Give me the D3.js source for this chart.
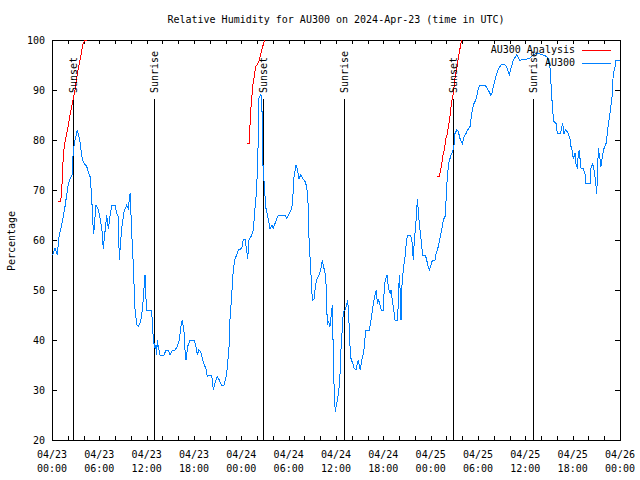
<!DOCTYPE html>
<html><head><meta charset="utf-8">
<script src="https://cdn.jsdelivr.net/npm/d3@7"></script>
<style>
body{margin:0;background:#fff}
svg text{font-family:"DejaVu Sans Mono","Liberation Mono",monospace;font-size:10px;fill:#000}
</style>
</head><body><svg id="chart" width="640" height="480"></svg>
<script>
const chartTitle = "Relative Humidity for AU300 on 2024-Apr-23 (time in UTC)";
const yAxisTitle = "Percentage";
const startTime = "2024-04-23T00:00:00Z";
const endTime = "2024-04-26T00:00:00Z";
const yTickValues = [20, 30, 40, 50, 60, 70, 80, 90, 100];
const seriesNames = ["AU300 Analysis", "AU300"];
const seriesColors = ["#ff0000", "#0080ff"];

// hours since 2024-04-23 00:00 UTC
const humidityHours = [0.09,0.38,0.67,0.89,1.23,1.65,2.07,2.28,2.54,2.70,2.92,3.21,3.55,3.76,3.97,4.40,4.60,4.82,5.03,5.16,5.29,5.41,5.58,5.87,6.17,6.34,6.50,6.72,6.93,7.14,7.35,7.57,7.99,8.20,8.40,8.53,8.71,8.87,9.13,9.47,9.67,9.89,9.98,10.14,10.31,10.43,10.52,10.74,10.94,11.24,11.50,11.66,11.79,11.92,12.00,12.55,12.71,12.80,12.93,13.06,13.18,13.27,13.35,13.47,13.69,14.20,14.45,14.74,14.96,15.25,15.59,15.88,16.14,16.35,16.52,16.73,16.86,16.99,17.20,17.49,18.00,18.25,18.42,18.60,18.85,19.05,19.31,19.52,19.69,19.94,20.24,20.45,20.66,20.95,21.21,21.46,21.80,22.06,22.22,22.44,22.56,22.78,22.98,23.20,23.41,23.62,24.05,24.25,24.46,24.68,24.81,24.97,25.23,25.52,25.73,25.95,26.11,26.24,26.49,26.62,26.66,26.78,26.91,27.13,27.34,27.63,27.89,28.05,28.27,28.69,29.54,29.75,30.08,30.38,30.51,30.68,30.93,31.09,31.31,31.53,31.78,32.07,32.29,32.49,32.58,32.70,32.83,32.92,33.05,33.21,33.43,33.63,33.85,34.06,34.26,34.39,34.61,34.73,34.82,34.90,35.08,35.24,35.37,35.53,35.58,35.66,35.78,35.91,36.09,36.22,36.38,36.51,36.63,36.80,36.93,37.14,37.36,37.48,37.56,37.69,37.78,37.90,38.12,38.32,38.54,38.70,38.83,38.95,39.08,39.26,39.46,39.59,39.77,40.22,40.40,40.53,40.65,40.82,40.98,41.11,41.24,41.41,41.58,41.74,42.00,42.12,42.25,42.47,42.59,42.72,42.85,42.97,43.19,43.35,43.48,43.82,43.90,44.03,44.11,44.24,44.33,44.53,44.75,44.87,45.04,45.47,45.63,45.80,45.93,46.10,46.23,46.31,46.43,46.56,46.74,46.90,46.99,47.32,47.50,47.62,47.83,48.00,48.17,48.33,48.55,48.68,48.84,48.97,49.18,49.40,49.60,49.82,49.94,50.11,50.29,50.45,50.62,50.79,50.96,51.08,51.30,51.50,51.72,52.01,52.23,52.48,52.69,52.99,53.20,53.41,53.62,53.84,54.04,54.25,54.89,55.10,55.39,55.61,55.74,55.94,56.28,56.57,56.79,57.00,57.30,57.55,57.72,57.97,58.18,58.48,58.69,58.91,59.11,59.32,59.54,60.17,60.50,60.81,61.01,61.23,61.65,62.28,62.71,62.91,63.13,63.34,63.47,63.63,63.89,64.05,64.48,64.61,64.74,64.90,65.07,65.32,65.50,65.66,65.79,65.92,66.08,66.30,66.42,66.59,66.72,66.84,66.93,67.06,67.35,67.56,67.69,68.20,68.32,68.54,68.70,68.87,69.05,69.17,69.25,69.46,69.59,69.76,69.97,70.23,70.39,70.57,70.73,70.99,71.15,71.37,71.49,72.00];
const humidityValues = [57,58.4,57,60.7,63,66.7,71.3,72.2,73,78,80,82,79.7,77,75.5,74.7,73.7,72.7,68.7,63.7,61.3,63.7,67,66,63.7,61.7,58.3,61.7,65,62.3,64.7,67,67,65.3,64.7,56,60,62.7,65.7,67,66.3,69.3,66.3,60.3,55,49.7,46.3,43,42.7,43.7,46.7,50.3,53,48,46,46,44.3,41.3,39.3,38.3,39,37,40,38.7,37,37,38,38,37,38,38,38.7,40,42.7,44,41.7,38,36,38.7,40,40,38.7,37,38,37.7,36.3,35,34.3,32.7,33,33,30,31.3,32.7,32,31,31,32.7,34.3,38.7,44,49,54,56.3,57,58,58.3,60.2,60.2,58,56.3,60,60.7,62,66.3,70.3,78,88.4,89.2,85.7,75,75,70.7,66.3,64.7,62.3,63,62.3,63.3,65,65,64.3,65.3,66.3,68,72.7,75,74.3,72.3,73,72.3,71.7,70.7,66.7,60.3,56.7,53,49.7,48,48.2,51.3,52.3,53,54,56,55,53.3,51.3,47.3,43,43.7,42.7,44.7,47,43.7,36.7,29.3,25.7,27.3,28.3,30.3,33.3,38,42.3,45.7,46,47,48,46,42.3,38.7,36.3,35.3,34.3,34,35.3,36,35,34,36,37.3,38.7,42,42,43.7,45,46.3,48,49.3,50,47.3,48,47,46,46,50.3,52,53,51.3,50,49.3,50,47.3,45.7,44,44,48.3,53,50.7,44,50.3,54,56.7,58.7,61,61,59.7,56,60,62.7,66,68.2,66,63.3,60.7,58.3,57,57,56,55,54,54.7,55.7,56,56,57.3,58,58.7,60.3,62,64,64.7,67.7,72.7,75.3,76.3,77.2,77.7,79,81.3,82,81.7,80.3,79.3,80.7,81.3,82,82.7,85.3,87,87.7,88.7,90.3,91,91,90.5,89.7,89,89.2,90.7,92.8,94.2,94.7,95.2,95.2,94.8,94.2,93,94.3,96,96.5,97,96.5,95.8,96.2,96.2,96.3,96.7,97,97.2,97.3,97,96.7,96,94.3,89,85.7,83.7,83.3,81.3,81.3,82.7,83.3,81.3,82,81.7,81,80.3,78.7,78,76.3,77.3,75.3,74.3,77.3,78,76.3,74.3,74.3,73.3,71.3,71.3,74.3,75.3,74,72.3,69.3,74.3,78.3,76.3,74.7,76.7,78.3,79.3,81.3,83.7,85.3,88.7,93.3,94.7,96,96];

// analysis series; null value = gap between runs
const analysisHours = [0.80,1.10,1.23,1.36,1.43,1.65,1.86,2.07,2.37,2.62,2.92,3.13,3.33,3.64,3.89,4.18,4.47,
  10,
  24.76,25.01,25.10,25.23,25.44,25.64,25.82,26.02,26.28,26.49,26.71,26.96,
  35,
  48.84,49.10,49.27,49.40,49.53,49.69,49.94,50.11,50.36,50.67,50.87,51.08,51.30,51.50,51.72,51.93];
const analysisValues = [67.7,67.7,70,74,77,79.7,81.3,83,85.7,87.7,90,92.3,94.3,96.7,99,100,100,
  null,
  79.3,79.3,83,86.7,90.7,92.7,94.7,95,96,97.3,98.7,100,
  null,
  72.8,72.8,74,75,76.7,77.7,80.3,81.3,83.7,87.7,89.3,92.3,94.3,96.3,98.3,100];

const sunEventNames = ["Sunset", "Sunrise", "Sunset", "Sunrise", "Sunset", "Sunrise"];
const sunEventHours = [2.70, 12.97, 26.78, 37.05, 50.87, 61.02];
const sunMarkerLevel = 88.2;

const W = 640, H = 480;
const plot = {left: 52, right: 620, top: 40, bottom: 440};
const t0 = new Date(startTime);
const toDate = h => new Date(t0.getTime() + h * 3600000);

const svg = d3.select("#chart");
const x = d3.scaleUtc().domain([new Date(startTime), new Date(endTime)]).range([plot.left, plot.right]);
const y = d3.scaleLinear().domain([20, 100]).range([plot.bottom, plot.top]);

svg.append("defs").append("clipPath").attr("id", "clip")
  .append("rect").attr("x", plot.left).attr("y", plot.top)
  .attr("width", plot.right - plot.left).attr("height", plot.bottom - plot.top);

// title
svg.append("text").attr("x", (plot.left + plot.right) / 2).attr("y", 23)
  .attr("text-anchor", "middle").text(chartTitle);

// y title
svg.append("text").attr("transform", "translate(14.5,241) rotate(-90)")
  .attr("text-anchor", "middle").text(yAxisTitle);

const minorTicks = d3.utcHour.every(2).range(new Date(startTime), new Date(new Date(endTime).getTime() + 1));
const majorTicks = d3.utcHour.every(6).range(new Date(startTime), new Date(new Date(endTime).getTime() + 1));

function styleAxis(g) {
  g.select(".domain").remove();
  g.selectAll("line").attr("stroke", "#000").attr("shape-rendering", "crispEdges");
  g.attr("font-family", null).attr("font-size", null);
}

svg.append("g").attr("transform", `translate(0,${plot.bottom})`)
  .call(d3.axisBottom(x).tickValues(minorTicks).tickSize(-4).tickFormat(""))
  .call(styleAxis);
svg.append("g").attr("transform", `translate(0,${plot.top})`)
  .call(d3.axisTop(x).tickValues(minorTicks).tickSize(-4).tickFormat(""))
  .call(styleAxis);
svg.append("g").attr("transform", `translate(${plot.left},0)`)
  .call(d3.axisLeft(y).tickValues(yTickValues).tickSize(-5).tickPadding(7).tickFormat(d3.format("d")))
  .call(styleAxis);
svg.append("g").attr("transform", `translate(${plot.right},0)`)
  .call(d3.axisRight(y).tickValues(yTickValues).tickSize(-5).tickFormat(""))
  .call(styleAxis);

// bottom two-line labels
const fmtDay = d3.utcFormat("%m/%d"), fmtTime = d3.utcFormat("%H:%M");
const lab = svg.append("g").selectAll("text").data(majorTicks).join("text")
  .attr("text-anchor", "middle");
lab.append("tspan").attr("x", d => x(d)).attr("y", 457.5).text(fmtDay);
lab.append("tspan").attr("x", d => x(d)).attr("y", 471.5).text(fmtTime);

// border
svg.append("rect").attr("x", plot.left + 0.5).attr("y", plot.top + 0.5)
  .attr("width", plot.right - plot.left).attr("height", plot.bottom - plot.top)
  .attr("fill", "none").attr("stroke", "#000").attr("shape-rendering", "crispEdges");

const content = svg.append("g").attr("clip-path", "url(#clip)");

// sunrise / sunset markers
sunEventHours.forEach((h, i) => {
  const xx = Math.round(x(toDate(h))) + 0.5;
  content.append("line").attr("x1", xx).attr("x2", xx)
    .attr("y1", y(sunMarkerLevel)).attr("y2", y(20))
    .attr("stroke", "#000").attr("shape-rendering", "crispEdges");
  svg.append("text").attr("transform", `translate(${xx + 3.5},${y(sunMarkerLevel) - 6}) rotate(-90)`)
    .attr("text-anchor", "start").text(sunEventNames[i]);
});

const line = d3.line()
  .defined(d => d[1] !== null)
  .x(d => x(toDate(d[0]))).y(d => y(d[1]));

content.append("path")
  .datum(analysisHours.map((h, i) => [h, analysisValues[i]]))
  .attr("d", line).attr("fill", "none").attr("stroke", seriesColors[0])
  .attr("stroke-width", 1).attr("shape-rendering", "crispEdges");

content.append("path")
  .datum(humidityHours.map((h, i) => [h, humidityValues[i]]))
  .attr("d", line).attr("fill", "none").attr("stroke", seriesColors[1])
  .attr("stroke-width", 1).attr("shape-rendering", "crispEdges");

// legend
const legendRows = [49.5, 62.5];
seriesNames.forEach((name, i) => {
  svg.append("text").attr("x", 575).attr("y", legendRows[i]).attr("dy", "0.35em")
    .attr("text-anchor", "end").text(name);
  svg.append("line").attr("x1", 582).attr("x2", 611)
    .attr("y1", Math.round(legendRows[i]) + 0.5).attr("y2", Math.round(legendRows[i]) + 0.5)
    .attr("stroke", seriesColors[i]).attr("shape-rendering", "crispEdges");
});
</script>
</body></html>
